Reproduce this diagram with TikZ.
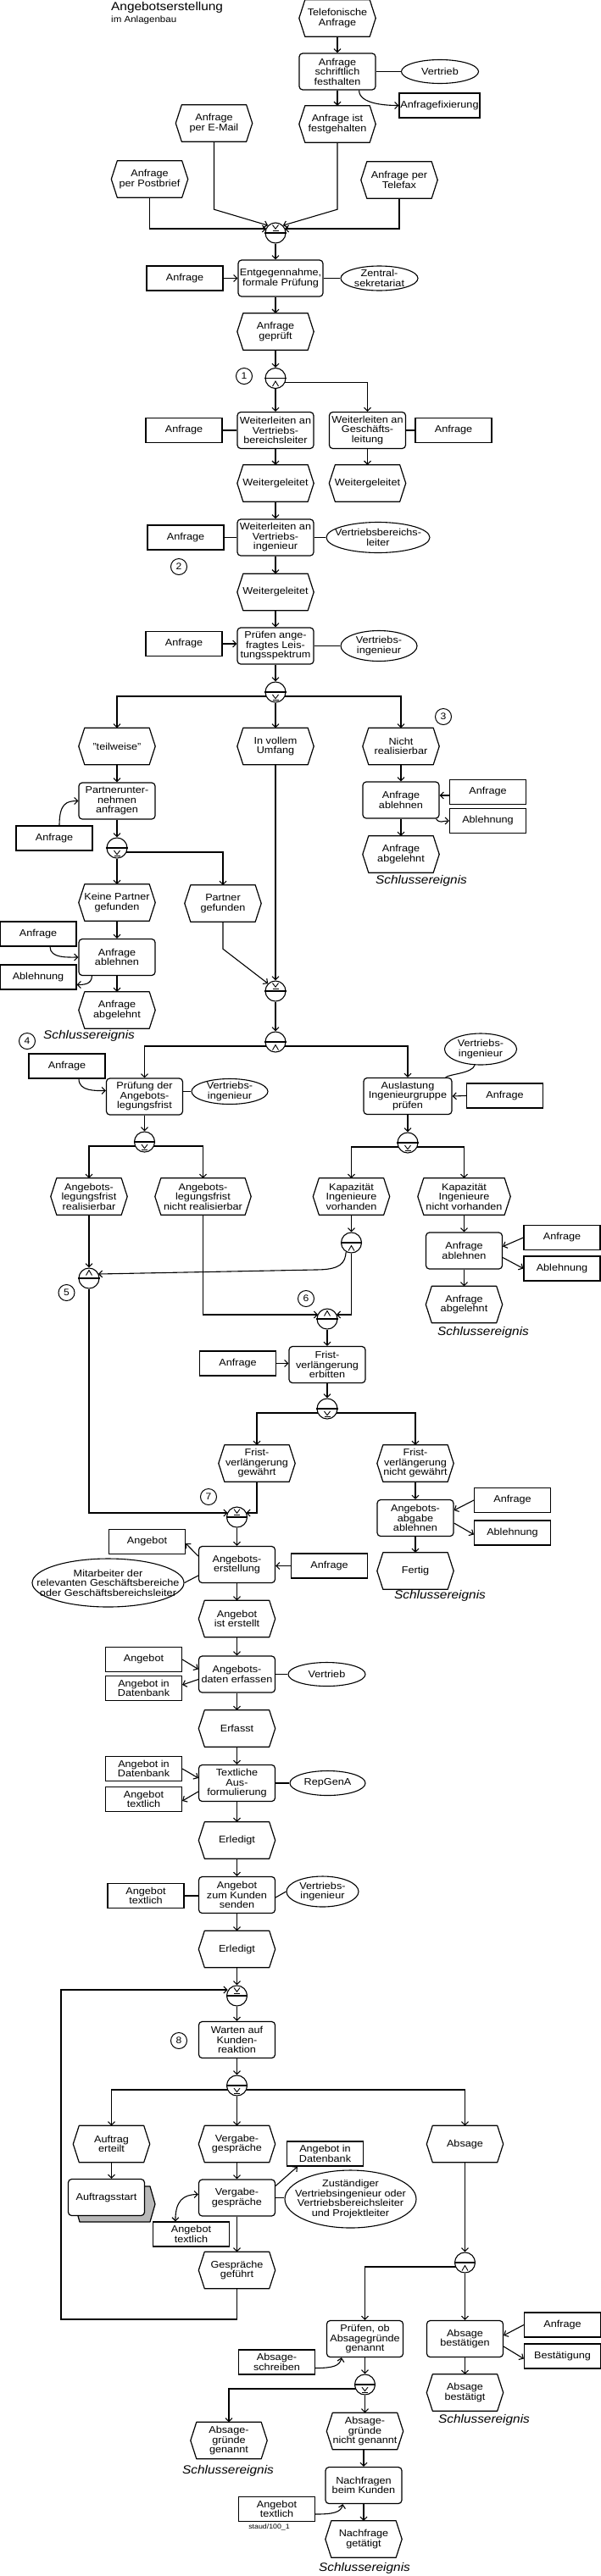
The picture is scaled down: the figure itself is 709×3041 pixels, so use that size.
\documentclass[tikz,border=0pt]{standalone}
\usepackage{fontspec}
\setmainfont[FakeStretch=1.1]{Liberation Sans}
\usetikzlibrary{arrows.meta,shapes.geometric,calc}
\tikzset{
 lbl/.style={font=\fontsize{11.5}{11.5}\selectfont, align=center, inner sep=0pt},
 shp/.style={line width=1.2pt, line join=round},
 fn/.style={lbl, shp, draw, rounded corners=4pt, minimum width=90pt, minimum height=43pt},
 evn/.style={lbl, minimum width=90pt, minimum height=43pt},
 box/.style={lbl, draw, line width=1.2pt, minimum width=90pt, minimum height=29pt},
 org/.style={draw, ellipse, line width=1.1pt, inner sep=0pt},
 cn/.style={draw, circle, line width=1.1pt, minimum size=24pt, inner sep=0pt},
 sym/.style={line width=0.9pt},
 mk/.style={draw, circle, line width=1pt, minimum size=19pt, inner sep=0pt, font=\fontsize{11}{11}\selectfont},
 fin/.style={inner sep=0pt, font=\fontsize{14}{14}\selectfont\itshape},
 fl/.style={line width=1.1pt, -{Straight Barb[length=4pt,width=8pt]}},
 fll/.style={line width=1.1pt, {Straight Barb[length=4pt,width=8pt]}-{Straight Barb[length=4pt,width=8pt]}},
 ln/.style={line width=1.1pt},
}
\newcommand\evt[5][90]{\node[evn,minimum width=#1pt] (#2) at (#3,#4) {#5};
 \draw[shp] ($(#2.north west)+(7,0)$) -- ($(#2.north east)+(-7,0)$) -- (#2.east) -- ($(#2.south east)+(-7,0)$) -- ($(#2.south west)+(7,0)$) -- (#2.west) -- cycle;}
\newcommand\orgu[6]{\node[org,minimum width=#4pt,minimum height=#5pt] (#1) at (#2,#3) {};
 \node[lbl] (#1t) at (#1) {#6};}
\newcommand\xorJ[3]{\node[cn] (#1) at (#2,#3) {}; \draw[ln] (#1.west) -- (#1.east);
 \draw[sym] ($(#1)+(-3.5,-9.5)$) -- ($(#1)+(0,-4.8)$) -- ($(#1)+(3.5,-9.5)$);
 \draw[sym] ($(#1)+(-3.5,-3)$) -- ($(#1)+(3.5,-3)$);}
\newcommand\xorS[3]{\node[cn] (#1) at (#2,#3) {}; \draw[ln] (#1.west) -- (#1.east);
 \draw[sym] ($(#1)+(-3.5,3)$) -- ($(#1)+(0,7.7)$) -- ($(#1)+(3.5,3)$);
 \draw[sym] ($(#1)+(-3.5,9.5)$) -- ($(#1)+(3.5,9.5)$);}
\newcommand\andJ[3]{\node[cn] (#1) at (#2,#3) {}; \draw[ln] (#1.west) -- (#1.east);
 \draw[sym] ($(#1)+(-3.5,-3.5)$) -- ($(#1)+(0,-9.5)$) -- ($(#1)+(3.5,-3.5)$);}
\newcommand\andS[3]{\node[cn] (#1) at (#2,#3) {}; \draw[ln] (#1.west) -- (#1.east);
 \draw[sym] ($(#1)+(-3.5,9.5)$) -- ($(#1)+(0,3.5)$) -- ($(#1)+(3.5,9.5)$);}
\begin{document}
\begin{tikzpicture}[x=1pt,y=-1pt]
\useasboundingbox (0,0) rectangle (709,3041);
% title
\node[anchor=base west, inner sep=0pt, font=\fontsize{14}{14}\selectfont] (title) at (131,12.5) {Angebotserstellung};
\node[anchor=base west, inner sep=0pt, font=\fontsize{10.5}{10.5}\selectfont] (subtitle) at (131,26.5) {im Anlagenbau};
% ---------- top part
\evt{tel}{398}{21.5}{Telefonische\\Anfrage}
\node[fn] (schr) at (398,84.5) {Anfrage\\schriftlich\\festhalten};
\orgu{vert1}{519}{84.5}{91}{28}{Vertrieb}
\node[box, minimum width=95pt] (fix) at (518.5,124.5) {Anfragefixierung};
\evt{fest}{398}{146.5}{Anfrage ist\\festgehalten}
\evt{mail}{252.5}{145.5}{Anfrage\\per E-Mail}
\evt{post}{176.5}{211.5}{Anfrage\\per Postbrief}
\evt{fax}{471}{212.5}{Anfrage per\\Telefax}
\xorJ{c1}{325}{275}
\node[fn, minimum width=100pt] (entg) at (331,328.5) {Entgegennahme,\\formale Prüfung};
\node[box] (anf1) at (218,328.5) {Anfrage};
\orgu{zs}{447.5}{328.5}{91}{29}{Zentral-\\sekretariat}
\evt{gepr}{325}{391.5}{Anfrage\\geprüft}
\node[mk] (m1) at (288,444) {1};
\andS{c2}{325}{446.5}
\node[fn] (wvbl) at (325,508) {Weiterleiten an\\Vertriebs-\\bereichsleiter};
\node[fn] (wgl) at (433.5,508) {Weiterleiten an\\Geschäfts-\\leitung};
\node[box] (anf2) at (217,508) {Anfrage};
\node[box] (anf3) at (535,508) {Anfrage};
\evt{wg1}{325}{570.5}{Weitergeleitet}
\evt{wg2}{433.5}{570.5}{Weitergeleitet}
\node[fn] (wvi) at (325,634.5) {Weiterleiten an\\Vertriebs-\\ingenieur};
\node[box] (anf4) at (219,634.5) {Anfrage};
\orgu{vbl}{446}{634.5}{122}{36}{Vertriebsbereichs-\\leiter}
\node[mk] (m2) at (211,669) {2};
\evt{wg3}{325}{699}{Weitergeleitet}
\node[fn] (pruef) at (325,762.5) {Prüfen ange-\\fragtes Leis-\\tungsspektrum};
\node[box] (anf5) at (217,760) {Anfrage};
\orgu{vi1}{447}{762.5}{90}{36}{Vertriebs-\\ingenieur}
\xorS{c3}{325}{817}
\evt{teil}{138}{881}{"teilweise"}
\evt{voll}{325}{881}{In vollem\\Umfang}
\evt{nicht}{473}{881}{Nicht\\realisierbar}
\node[mk] (m3) at (523,846) {3};
% left branch
\node[fn] (partn) at (138,945.5) {Partnerunter-\\nehmen\\anfragen};
\node[box] (anf6) at (64,989.5) {Anfrage};
\xorS{c4}{138}{1001}
\evt{keine}{138}{1065.5}{Keine Partner\\gefunden}
\evt{partg}{263}{1066.5}{Partner\\gefunden}
\node[fn] (abl2) at (138,1130) {Anfrage\\ablehnen};
\node[box] (anf8) at (45,1102.5) {Anfrage};
\node[box] (ablb2) at (45,1153.5) {Ablehnung};
\evt{abgel2}{138}{1192.5}{Anfrage\\abgelehnt}
\node[fin] (s2) at (105,1223) {Schlussereignis};
\node[mk] (m4) at (32,1229) {4};
% right branch
\node[fn] (abl1) at (473,944.5) {Anfrage\\ablehnen};
\node[box] (anf7) at (575.5,935) {Anfrage};
\node[box] (ablb1) at (575.5,969) {Ablehnung};
\evt{abgel1}{473}{1008.5}{Anfrage\\abgelehnt}
\node[fin] (s1) at (497,1040) {Schlussereignis};
% join
\xorJ{c5}{325}{1170}
\andS{c6}{325}{1230}
\orgu{vi2}{567}{1238.5}{85}{37}{Vertriebs-\\ingenieur}
\node[box] (anf9) at (79,1258.5) {Anfrage};
\node[fn] (pfrist) at (170.5,1294.5) {Prüfung der\\Angebots-\\legungsfrist};
\orgu{vi3}{271}{1288.5}{90}{30}{Vertriebs-\\ingenieur}
\node[fn, minimum width=104pt] (ausl) at (481,1294) {Auslastung\\Ingenieurgruppe\\prüfen};
\node[box] (anf10) at (595.5,1293.5) {Anfrage};
\xorS{c7}{170.5}{1348}
\xorS{c8}{481}{1349}
\evt{real}{105}{1412.5}{Angebots-\\legungsfrist\\realisierbar}
\evt[113]{nreal}{239.5}{1412.5}{Angebots-\\legungsfrist\\nicht realisierbar}
\evt{kapv}{414.5}{1412.5}{Kapazität\\Ingenieure\\vorhanden}
\evt[109]{kapn}{547.5}{1412.5}{Kapazität\\Ingenieure\\nicht vorhanden}
\andS{c9}{414.5}{1467}
\node[fn] (abl3) at (547.5,1476.5) {Anfrage\\ablehnen};
\node[box] (anf11) at (663,1461) {Anfrage};
\node[box] (ablb3) at (663,1497.5) {Ablehnung};
\evt{abgel3}{547.5}{1540}{Anfrage\\abgelehnt}
\node[fin] (s3) at (570,1573) {Schlussereignis};
\andJ{c10}{105}{1509}
\node[mk] (m5) at (78.5,1526) {5};
\andJ{c11}{386}{1557}
\node[mk] (m6) at (361,1533) {6};
\node[fn] (frist) at (386,1611) {Frist-\\verlängerung\\erbitten};
\node[box] (anf12) at (280.5,1609.5) {Anfrage};
\xorS{c12}{386}{1663}
\evt{gew}{303}{1727.5}{Frist-\\verlängerung\\gewährt}
\evt{ngew}{490}{1727.5}{Frist-\\verlängerung\\nicht gewährt}
\xorJ{c13}{279.5}{1791}
\node[mk] (m7) at (246,1767) {7};
\node[fn] (aabl) at (490,1792) {Angebots-\\abgabe\\ablehnen};
\node[box] (anf13) at (604.5,1771) {Anfrage};
\node[box] (ablb4) at (604.5,1809.5) {Ablehnung};
\evt{fertig}{490}{1854.5}{Fertig}
\node[fin] (s4) at (519,1884) {Schlussereignis};
% main column
\node[fn] (aerst) at (279.5,1847) {Angebots-\\erstellung};
\node[box] (angeb1) at (173.5,1820) {Angebot};
\orgu{mitarb}{127.5}{1868.5}{179}{57}{Mitarbeiter der\\relevanten Geschäftsbereiche\\oder Geschäftsbereichsleiter}
\node[box] (anf14) at (388.5,1848.5) {Anfrage};
\evt{aist}{279.5}{1911}{Angebot\\ist erstellt}
\node[fn] (adat) at (279.5,1976.5) {Angebots-\\daten erfassen};
\node[box] (angeb2) at (169.5,1959) {Angebot};
\node[box] (adb1) at (169.5,1993) {Angebot in\\Datenbank};
\orgu{vert2}{385.5}{1976.5}{91}{28}{Vertrieb}
\evt{erf}{279.5}{2040.5}{Erfasst}
\node[fn] (textf) at (279.5,2105) {Textliche\\Aus-\\formulierung};
\node[box] (adb2) at (169.5,2088) {Angebot in\\Datenbank};
\node[box] (atx1) at (169.5,2124) {Angebot\\textlich};
\orgu{repg}{386.5}{2105}{89}{29}{RepGenA}
\evt{erl1}{279.5}{2172.5}{Erledigt}
\node[fn] (send) at (279.5,2237) {Angebot\\zum Kunden\\senden};
\node[box] (atx2) at (172,2238) {Angebot\\textlich};
\orgu{vi4}{380.5}{2233}{85}{36}{Vertriebs-\\ingenieur}
\evt{erl2}{279.5}{2301}{Erledigt}
\xorJ{c14}{279.5}{2356}
\node[fn] (wart) at (279.5,2408) {Warten auf\\Kunden-\\reaktion};
\node[mk] (m8) at (211,2409) {8};
\xorS{c15}{279.5}{2462}
\evt{auft}{131.5}{2531}{Auftrag\\erteilt}
\evt{verg}{279.5}{2531}{Vergabe-\\gespräche}
\evt{absage}{548.5}{2531}{Absage}
% Auftragsstart with shadow
\coordinate (asc) at (125.5,2594);
\draw[shp, fill=black!28] ($(asc)+(-31.5,-13)$) -- ($(asc)+(51.5,-13)$) -- ($(asc)+(57.5,8)$) -- ($(asc)+(51.5,29)$) -- ($(asc)+(-31.5,29)$) -- ($(asc)+(-37.5,8)$) -- cycle;
\node[fn, fill=white] (astart) at (asc) {Auftragsstart};
\node[fn] (vergf) at (279.5,2594.5) {Vergabe-\\gespräche};
\node[box] (adb3) at (383.5,2542.5) {Angebot in\\Datenbank};
\orgu{zust}{413.5}{2596}{155}{68}{Zuständiger\\Vertriebsingenieur oder\\Vertriebsbereichsleiter\\und Projektleiter}
\node[box] (atx3) at (225.5,2637.5) {Angebot\\textlich};
\evt{gef}{279.5}{2680}{Gespräche\\geführt}
\coordinate (lp) at (72,2738);
\andS{c16}{548.5}{2671}
\node[fn] (pob) at (430.5,2761) {Prüfen, ob\\Absagegründe\\genannt};
\node[fn] (abest) at (548.5,2761) {Absage\\bestätigen};
\node[box] (anf15) at (663.5,2744.5) {Anfrage};
\node[box] (best) at (663.5,2781.5) {Bestätigung};
\evt{abestt}{548.5}{2824.5}{Absage\\bestätigt}
\node[fin] (s7) at (571,2857) {Schlussereignis};
\node[box] (absch) at (326.5,2788.5) {Absage-\\schreiben};
\xorS{c17}{430.5}{2815}
\evt{agg}{270}{2881}{Absage-\\gründe\\genannt}
\node[fin] (s5) at (269,2917) {Schlussereignis};
\evt{agng}{430.5}{2870}{Absage-\\gründe\\nicht genannt}
\node[fn] (nachf) at (429,2934) {Nachfragen\\beim Kunden};
\node[box] (atx4) at (326.5,2962) {Angebot\\textlich};
\node[inner sep=0pt, font=\fontsize{8}{8}\selectfont] (staud) at (317.5,2983) {staud/100\_1};
\evt{nget}{429}{2997.5}{Nachfrage\\getätigt}
\node[fin] (s6) at (430,3032) {Schlussereignis};
% ---------- connectors
\draw[fl] (tel.south) -- (schr.north);
\draw[ln] (schr.east) -- (schr.east -| vert1.west);
\draw[fl] ($(schr.south east)+(-20,0)$) .. controls ($(schr.south east)+(-20,16)$) and ($(fix.west)+(-16,0)$) .. (fix.west);
\draw[fl] (schr.south) -- (fest.north);
\draw[fl] (mail.south) -- ($(mail.south)+(0,80)$) -- (c1.north west);
\draw[fl] (fest.south) -- ($(fest.south)+(0,79)$) -- (c1.north east);
\draw[fl] (post.south) |- ($(c1)+(-10.9,-5)$);
\draw[fl] (fax.south) |- ($(c1)+(10.9,-5)$);
\draw[fl] (c1.south) -- (c1.south |- entg.north);
\draw[fl] (anf1.east) -- (anf1.east -| entg.west);
\draw[ln] (entg.east) -- (entg.east -| zs.west);
\draw[fl] (gepr.north |- entg.south) -- (gepr.north);
\draw[fl] (gepr.south) -- (c2.north);
\draw[fl] (c2.south) -- (wvbl.north);
\draw[fl] ($(c2)+(10.9,5)$) -| (wgl.north);
\draw[ln] (anf2.east) -- (anf2.east -| wvbl.west);
\draw[ln] (wgl.east) -- (wgl.east -| anf3.west);
\draw[fl] (wvbl.south) -- (wg1.north);
\draw[fl] (wgl.south) -- (wg2.north);
\draw[fl] (wg1.south) -- (wvi.north);
\draw[ln] (anf4.east) -- (anf4.east -| wvi.west);
\draw[ln] (wvi.east) -- (wvi.east -| vbl.west);
\draw[fl] (wvi.south) -- (wg3.north);
\draw[fl] (wg3.south) -- (pruef.north);
\draw[fl] (anf5.east) -- (anf5.east -| pruef.west);
\draw[ln] (pruef.east) -- (pruef.east -| vi1.west);
\draw[fl] (pruef.south) -- (c3.north);
\draw[fl] ($(c3)+(-10.9,5)$) -| (teil.north);
\draw[fl] (c3.south) -- (voll.north);
\draw[fl] ($(c3)+(10.9,5)$) -| (nicht.north);
\draw[fl] (teil.south) -- (partn.north);
\draw[fl] ($(anf6.north)+(6,0)$) .. controls ($(anf6.north)+(6,-26)$) and ($(partn.west)+(-14,0)$) .. (partn.west);
\draw[fl] (partn.south) -- (c4.north);
\draw[fl] (c4.south) -- (keine.north);
\draw[fl] ($(c4)+(10.9,5)$) -| (partg.north);
\draw[fl] (keine.south) -- (abl2.north);
\draw[fl] ($(anf8.south)+(14,0)$) .. controls ($(anf8.south)+(14,14)$) and ($(abl2.west)+(-12,0)$) .. (abl2.west);
\draw[fl] ($(abl2.south west)+(16,0)$) .. controls ($(abl2.south west)+(16,10)$) and ($(ablb2.east)+(8,9)$) .. ($(ablb2.east)+(0,9)$);
\draw[fl] (abl2.south) -- (abgel2.north);
\draw[fl] (nicht.south) -- (abl1.north);
\draw[fl] ($(anf7.west)+(0,4)$) -- ($(abl1.east)+(0,-5.5)$);
\draw[fl] ($(abl1.south east)+(-4,0)$) .. controls ($(abl1.south east)+(0,6)$) and ($(ablb1.west)+(-8,0)$) .. (ablb1.west);
\draw[fl] (abl1.south) -- (abgel1.north);
\draw[fl] (partg.south) -- ($(partg.south)+(0,32)$) -- (c5.north west);
\draw[fl] (voll.south) -- (c5.north);
\draw[fl] (c5.south) -- (c6.north);
\draw[fl] ($(c6)+(-10.9,5)$) -| (pfrist.north);
\draw[fl] ($(c6)+(10.9,5)$) -| (ausl.north);
\draw[ln] (vi2.250) .. controls ($(vi2.250)+(-3,10)$) and ($(ausl.north east)+(-4,-4)$) .. ($(ausl.north east)+(-8,0)$);
\draw[fl] ($(anf9.south)+(14,0)$) .. controls ($(anf9.south)+(14,15)$) and ($(pfrist.west)+(-12,-7)$) .. ($(pfrist.west)+(0,-7)$);
\draw[ln] ($(pfrist.east)+(0,-6)$) -- (vi3.west);
\draw[fl] (anf10.west) -- (ausl.east);
\draw[fl] (pfrist.south) -- (c7.north);
\draw[fl] (ausl.south) -- (c8.north);
\draw[fl] ($(c7)+(-10.9,5)$) -| (real.north);
\draw[fl] ($(c7)+(10.9,5)$) -| (nreal.north);
\draw[fl] ($(c8)+(-10.9,5)$) -| (kapv.north);
\draw[fl] ($(c8)+(10.9,5)$) -| (kapn.north);
\draw[fl] (kapv.south) -- (c9.north);
\draw[fl] (c9.240) .. controls ($(c9.240)+(-1,14)$) and ($(c9.240)+(-8,20)$) .. ($(c9.240)+(-30,21)$) -- ($(c10)+(10.9,-5)$);
\draw[fl] (c9.south) |- ($(c11)+(10.9,-5)$);
\draw[fl] (nreal.south) |- ($(c11)+(-10.9,-5)$);
\draw[fl] (real.south) -- (c10.north);
\draw[fl] (kapn.south) -- (abl3.north);
\draw[fl] (anf11.west) -- ($(abl3.east)+(0,-5)$);
\draw[fl] ($(abl3.east)+(0,8)$) -- (ablb3.west);
\draw[fl] (abl3.south) -- (abgel3.north);
\draw[fl] (c11.south) -- (frist.north);
\draw[fl] (anf12.east) -- (anf12.east -| frist.west);
\draw[fl] (frist.south) -- (c12.north);
\draw[fl] ($(c12)+(-10.9,5)$) -| (gew.north);
\draw[fl] ($(c12)+(10.9,5)$) -| (ngew.north);
\draw[fl] (c10.south) |- ($(c13)+(-10.9,-5)$);
\draw[fl] (gew.south) |- ($(c13)+(10.9,-5)$);
\draw[fl] (ngew.south) -- (aabl.north);
\draw[fl] (anf13.west) -- ($(aabl.east)+(0,-9)$);
\draw[fl] ($(aabl.east)+(0,6)$) -- ($(ablb4.west)+(0,2)$);
\draw[fl] (aabl.south) -- (fertig.north);
\draw[fl] (c13.south) -- (aerst.north);
\draw[fl] ($(aerst.west)+(0,-10)$) -- ($(angeb1.east)+(0,2)$);
\draw[ln] ($(aerst.west)+(0,13)$) -- (mitarb.east);
\draw[fl] (anf14.west) -- (anf14.west -| aerst.east);
\draw[fl] (aerst.south) -- (aist.north);
\draw[fl] (aist.south) -- (adat.north);
\draw[fl] (angeb2.east) -- ($(adat.west)+(0,-6)$);
\draw[fl] ($(adat.west)+(0,6)$) -- ($(adb1.east)+(0,-4)$);
\draw[ln] (adat.east) -- (adat.east -| vert2.west);
\draw[fl] (adat.south) -- (erf.north);
\draw[fl] (erf.south) -- (textf.north);
\draw[fl] (adb2.east) -- ($(textf.west)+(0,-6)$);
\draw[fl] ($(textf.west)+(0,10)$) -- ($(atx1.east)+(0,2)$);
\draw[ln] (textf.east) -- (textf.east -| repg.west);
\draw[fl] (textf.south) -- (erl1.north);
\draw[fl] (erl1.south) -- (send.north);
\draw[ln] (atx2.east) -- (atx2.east -| send.west);
\draw[ln] ($(send.east)+(0,3)$) -- (vi4.west);
\draw[fl] (send.south) -- (erl2.north);
\draw[fl] (erl2.south) -- (c14.north);
\draw[fl] (c14.south) -- (wart.north);
\draw[fl] (wart.south) -- (c15.north);
\draw[fl] ($(c15)+(-10.9,5)$) -| (auft.north);
\draw[fl] (c15.south) -- (verg.north);
\draw[fl] ($(c15)+(10.9,5)$) -| (absage.north);
\draw[fl] (auft.south) -- (auft.south |- astart.north);
\draw[fl] (verg.south) -- (vergf.north);
\draw[fl] ($(vergf.east)+(0,-14)$) -- ($(adb3.south west)+(13,0)$);
\draw[ln] (vergf.east) -- (vergf.east -| zust.west);
\draw[fll] ($(atx3.north west)+(27,0)$) .. controls ($(atx3.north west)+(27,-24)$) and ($(vergf.west)+(-18,-4)$) .. ($(vergf.west)+(0,-4)$);
\draw[fl] (vergf.south) -- (gef.north);
\draw[fl] (gef.south) |- (lp) |- ($(c14)+(-10.9,-7)$);
\draw[fl] (absage.south) -- (c16.north);
\draw[fl] ($(c16)+(-10.9,5)$) -| (pob.north);
\draw[fl] (c16.south) -- (abest.north);
\draw[fl] (anf15.west) -- ($(abest.east)+(0,-4)$);
\draw[fl] ($(abest.east)+(0,9)$) -- ($(best.west)+(0,3)$);
\draw[fl] (abest.south) -- (abestt.north);
\draw[fl] ($(absch.east)+(0,7)$) .. controls ($(absch.east)+(20,7)$) and ($(pob.south west)+(16,10)$) .. ($(pob.south west)+(18,0)$);
\draw[fl] (pob.south) -- (c17.north);
\draw[fl] ($(c17)+(-10.9,5)$) -| (agg.north);
\draw[fl] (c17.south) -- (agng.north);
\draw[fl] (nachf.north |- agng.south) -- (nachf.north);
\draw[fl] ($(atx4.east)+(0,6)$) .. controls ($(atx4.east)+(20,6)$) and ($(nachf.south west)+(19,10)$) .. ($(nachf.south west)+(21,0)$);
\draw[fl] (nachf.south) -- (nget.north);
\end{tikzpicture}
\end{document}
